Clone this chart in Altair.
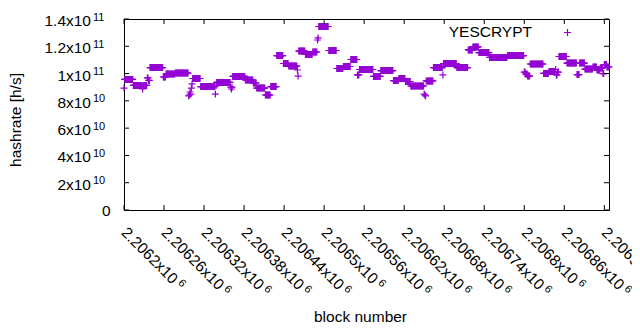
import altair as alt
import pandas as pd

# ---- data: runs of consecutive blocks with (nearly) the same hashrate
run_first_block = [2206200, 2206201, 2206214, 2206228, 2206229, 2206235, 2206237, 2206239, 2206259, 2206263,
                   2206277, 2206297, 2206298, 2206299, 2206300, 2206301, 2206302, 2206303, 2206315, 2206337,
                   2206338, 2206339, 2206360, 2206361, 2206362, 2206363, 2206382, 2206394, 2206399, 2206412,
                   2206420, 2206429, 2206439, 2206447, 2206460, 2206461, 2206462, 2206472, 2206483, 2206490,
                   2206491, 2206492, 2206507, 2206519, 2206529, 2206540, 2206550, 2206553, 2206574, 2206585,
                   2206604, 2206612, 2206622, 2206630, 2206650, 2206651, 2206652, 2206653, 2206664, 2206678,
                   2206679, 2206699, 2206716, 2206723, 2206732, 2206748, 2206775, 2206800, 2206802, 2206805,
                   2206809, 2206829, 2206837, 2206847, 2206848, 2206850, 2206852, 2206864, 2206879, 2206883,
                   2206891, 2206903, 2206909, 2206914, 2206918, 2206920, 2206924]
run_last_block = [2206200, 2206213, 2206227, 2206228, 2206234, 2206236, 2206238, 2206258, 2206262, 2206276,
                  2206296, 2206297, 2206298, 2206299, 2206300, 2206301, 2206302, 2206314, 2206336, 2206337,
                  2206338, 2206359, 2206360, 2206361, 2206362, 2206381, 2206393, 2206398, 2206411, 2206419,
                  2206428, 2206438, 2206446, 2206459, 2206460, 2206461, 2206471, 2206482, 2206489, 2206490,
                  2206491, 2206506, 2206518, 2206528, 2206539, 2206549, 2206552, 2206573, 2206584, 2206603,
                  2206611, 2206621, 2206629, 2206649, 2206650, 2206651, 2206652, 2206663, 2206677, 2206678,
                  2206698, 2206715, 2206722, 2206731, 2206747, 2206774, 2206799, 2206801, 2206804, 2206808,
                  2206828, 2206836, 2206846, 2206847, 2206849, 2206851, 2206863, 2206878, 2206882, 2206890,
                  2206902, 2206908, 2206913, 2206917, 2206919, 2206923, 2206927]
run_hashrate = [8.94e10, 9.57e10, 9.13e10, 8.87e10, 9.13e10, 9.68e10, 9.50e10, 10.44e10, 9.75e10, 9.97e10,
                10.04e10, 8.36e10, 8.43e10, 8.65e10, 8.50e10, 8.94e10, 9.24e10, 9.64e10, 9.05e10, 8.50e10,
                9.10e10, 9.35e10, 9.00e10, 8.87e10, 9.00e10, 9.79e10, 9.53e10, 9.31e10, 8.94e10, 8.43e10,
                9.05e10, 11.32e10, 10.74e10, 10.55e10, 10.26e10, 9.82e10, 11.65e10, 11.40e10, 11.58e10, 12.46e10,
                12.61e10, 13.45e10, 11.69e10, 10.37e10, 10.52e10, 11.03e10, 9.90e10, 10.30e10, 9.79e10, 10.22e10,
                9.49e10, 9.64e10, 9.42e10, 9.09e10, 8.50e10, 8.43e10, 8.36e10, 9.46e10, 10.44e10, 9.90e10,
                10.74e10, 10.44e10, 11.73e10, 11.95e10, 11.54e10, 11.18e10, 11.32e10, 10.11e10, 9.97e10, 9.82e10,
                10.70e10, 10.01e10, 10.15e10, 10.30e10, 9.90e10, 10.11e10, 11.25e10, 10.77e10, 9.93e10, 10.77e10,
                10.33e10, 10.48e10, 10.26e10, 10.40e10, 10.00e10, 10.66e10, 10.48e10]

series_name = ["YESCRYPT"]

x_tick_values = [2206200, 2206260, 2206320, 2206380, 2206440, 2206500, 2206560,
                 2206620, 2206680, 2206740, 2206800, 2206860, 2206920]
x_tick_mantissa = ["2.2062x10", "2.20626x10", "2.20632x10", "2.20638x10", "2.20644x10", "2.2065x10",
                   "2.20656x10", "2.20662x10", "2.20668x10", "2.20674x10", "2.2068x10", "2.20686x10",
                   "2.20692x10"]
x_tick_exponent = ["6"] * 13

y_tick_values = [0, 2e10, 4e10, 6e10, 8e10, 1e11, 1.2e11, 1.4e11]
y_tick_mantissa = ["0", "2x10", "4x10", "6x10", "8x10", "1x10", "1.2x10", "1.4x10"]
y_tick_exponent = ["", "10", "10", "10", "10", "11", "11", "11"]

x_title = ["block number"]
y_title = ["hashrate [h/s]"]

assert len(run_first_block) == len(run_last_block) == len(run_hashrate)

rows = []
for first, last, rate in zip(run_first_block, run_last_block, run_hashrate):
    for b in range(first, last + 1):
        rows.append({"block": b, "hashrate": rate})
df = pd.DataFrame(rows)
df_xt = pd.DataFrame({"value": x_tick_values, "mantissa": x_tick_mantissa, "exponent": x_tick_exponent})
df_yt = pd.DataFrame({"value": y_tick_values, "mantissa": y_tick_mantissa, "exponent": y_tick_exponent})

FONT = "Liberation Sans"
FS = 15.5
COLOR = "#9400d3"
W, H = 485, 191

xscale = alt.Scale(domain=[2206200, 2206927], nice=False, zero=False)
yscale = alt.Scale(domain=[0, 1.4e11], nice=False, zero=False)


def X(f):
    return alt.X(f, type="quantitative", scale=xscale, axis=None)


def Y(f):
    return alt.Y(f, type="quantitative", scale=yscale, axis=None)


plus = "M-1,0L1,0M0,-1L0,1"

points = alt.Chart(df).mark_point(shape=plus, size=49, filled=False, strokeWidth=1.2,
                                  color=COLOR, opacity=1).encode(x=X("block"), y=Y("hashrate"))

xt = alt.Chart(df_xt)
yt = alt.Chart(df_yt)
tick = dict(color="black", strokeWidth=1)
xt_bottom = xt.mark_rule(**tick).encode(x=X("value"), y=alt.value(H), y2=alt.value(H - 5))
xt_top = xt.mark_rule(**tick).encode(x=X("value"), y=alt.value(0), y2=alt.value(5))
yt_left = yt.mark_rule(**tick).encode(y=Y("value"), x=alt.value(0), x2=alt.value(5))
yt_right = yt.mark_rule(**tick).encode(y=Y("value"), x=alt.value(W), x2=alt.value(W - 5))

txt = dict(font=FONT, color="black")
xlab = xt.mark_text(angle=45, align="left", baseline="middle", fontSize=FS, **txt).encode(
    x=X("value"), y=alt.value(211), text="mantissa:N")
xexp_s = xt.transform_filter("length(datum.mantissa) == 9").mark_text(
    angle=45, align="left", baseline="middle", fontSize=11, dx=75.5, dy=-3, **txt).encode(
    x=X("value"), y=alt.value(211), text="exponent:N")
xexp_l = xt.transform_filter("length(datum.mantissa) == 10").mark_text(
    angle=45, align="left", baseline="middle", fontSize=11, dx=84.1, dy=-3, **txt).encode(
    x=X("value"), y=alt.value(211), text="exponent:N")

ylab = yt.transform_filter("datum.value > 0").mark_text(
    align="right", baseline="middle", fontSize=FS, dy=2, **txt).encode(
    y=Y("value"), x=alt.value(-33), text="mantissa:N")
ylab0 = yt.transform_filter("datum.value == 0").mark_text(
    align="right", baseline="middle", fontSize=FS, dy=1, **txt).encode(
    y=Y("value"), x=alt.value(-13.4), text="mantissa:N")
yexp = yt.transform_filter("datum.value > 0").mark_text(
    align="left", baseline="middle", fontSize=11, dy=-1.5, **txt).encode(
    y=Y("value"), x=alt.value(-31), text="exponent:N")

ytitle = alt.Chart(pd.DataFrame({"t": y_title})).mark_text(
    angle=270, align="center", baseline="middle", fontSize=FS, **txt).encode(
    x=alt.value(-108), y=alt.value(101), text="t:N")
xtitle = alt.Chart(pd.DataFrame({"t": x_title})).mark_text(
    align="center", baseline="alphabetic", fontSize=FS, **txt).encode(
    x=alt.value(236.5), y=alt.value(H + 111.5), text="t:N")

leg = alt.Chart(pd.DataFrame({"series": series_name}))
leg_text = leg.mark_text(align="right", baseline="alphabetic", fontSize=FS, **txt).encode(
    x=alt.value(408), y=alt.value(18.3), text="series:N")
leg_sym = leg.mark_point(shape=plus, size=49, filled=False, strokeWidth=1.2, color=COLOR,
                         opacity=1).encode(x=alt.value(443.5), y=alt.value(13.5))

chart = alt.layer(points, xt_bottom, xt_top, yt_left, yt_right, xlab, xexp_s, xexp_l,
                  ylab, ylab0, yexp, ytitle, xtitle, leg_text, leg_sym).properties(
    width=W, height=H,
    autosize=alt.AutoSizeParams(type="none"),
    padding={"left": 116, "top": 11, "right": 23, "bottom": 112},
    background="white",
).configure_view(stroke="black", strokeWidth=1)

chart.save("out.html", embed_options={"renderer": "svg", "actions": False})
